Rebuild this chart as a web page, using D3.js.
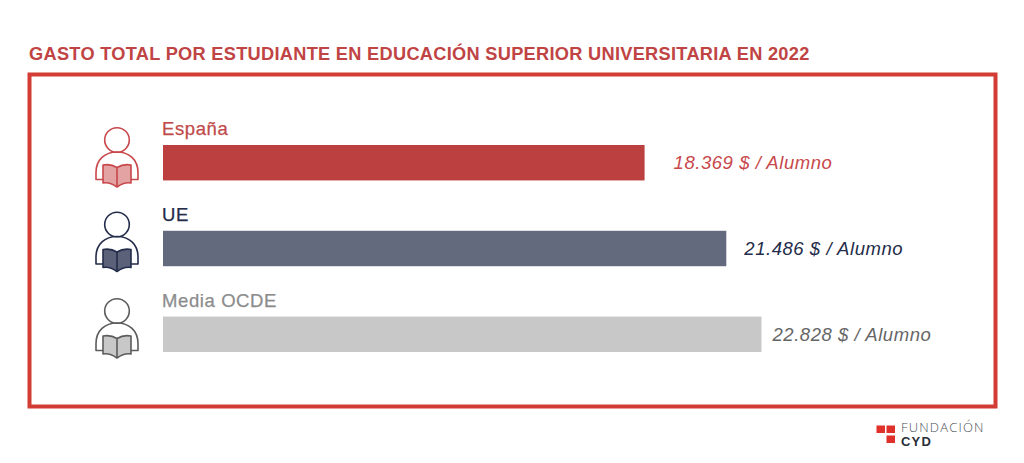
<!DOCTYPE html>
<html>
<head>
<meta charset="utf-8">
<script src="https://cdn.jsdelivr.net/npm/d3@7"></script>
<style>
  html, body { margin: 0; padding: 0; background: #fff; }
  text { font-family: "Liberation Sans", sans-serif; }
</style>
</head>
<body>
<svg id="chart"></svg>
<script>
// Data
const categories = ["España", "UE", "Media OCDE"];
const values = [18369, 21486, 22828];
const valueLabels = ["18.369 $ / Alumno", "21.486 $ / Alumno", "22.828 $ / Alumno"];
const titleText = "GASTO TOTAL POR ESTUDIANTE EN EDUCACIÓN SUPERIOR UNIVERSITARIA EN 2022";

// Colours per category
const barColors = ["#bc4040", "#636a7d", "#c8c8c8"];
const labelColors = ["#c04a4a", "#232c4a", "#8c8c8c"];
const valueColors = ["#c8474a", "#232c4a", "#666666"];
const iconStrokes = ["#c8474a", "#232c4a", "#5c5c5c"];
const iconFills = ["#e3a3a3", "#5a6178", "#c8c8c8"];

const width = 1024;
const height = 463;

const svg = d3.select("#chart")
  .attr("width", width)
  .attr("height", height)
  .style("display", "block");

// Title
svg.append("text")
  .attr("x", 29)
  .attr("y", 60)
  .attr("font-size", "18.2px")
  .attr("font-weight", "bold")
  .attr("letter-spacing", "0.3px")
  .attr("fill", "#c04444")
  .text(titleText);

// Red frame
svg.append("rect")
  .attr("x", 29.5)
  .attr("y", 74.5)
  .attr("width", 966)
  .attr("height", 332)
  .attr("fill", "none")
  .attr("stroke", "#d23c35")
  .attr("stroke-width", 4);

// Scales
const xScale = d3.scaleLinear()
  .domain([0, 23000])
  .range([163, 766]);

const yScale = d3.scaleBand()
  .domain(categories)
  .range([145, 352])
  .paddingInner(0.587)
  .paddingOuter(0);

// Bars
svg.selectAll(".bar")
  .data(categories)
  .enter()
  .append("rect")
  .attr("class", "bar")
  .attr("x", xScale(0))
  .attr("y", d => yScale(d))
  .attr("width", (d, i) => xScale(values[i]) - xScale(0))
  .attr("height", yScale.bandwidth())
  .attr("fill", (d, i) => barColors[i]);

// Category labels above the bars
svg.selectAll(".cat-label")
  .data(categories)
  .enter()
  .append("text")
  .attr("class", "cat-label")
  .attr("x", xScale(0) - 1)
  .attr("y", d => yScale(d) - 10)
  .attr("font-size", "18.5px")
  .attr("letter-spacing", "0.6px")
  .attr("stroke-width", 0.25)
  .attr("stroke", (d, i) => labelColors[i])
  .attr("fill", (d, i) => labelColors[i])
  .text(d => d);

// Value labels to the right of the bars
const valueGaps = [29, 18, 11];
svg.selectAll(".value-label")
  .data(categories)
  .enter()
  .append("text")
  .attr("class", "value-label")
  .attr("x", (d, i) => xScale(values[i]) + valueGaps[i])
  .attr("y", d => yScale(d) + yScale.bandwidth() / 2 + 6.5)
  .attr("font-size", "18.5px")
  .attr("letter-spacing", "0.55px")
  .attr("font-style", "italic")
  .attr("fill", (d, i) => valueColors[i])
  .text((d, i) => valueLabels[i]);

// Reader icon, one for each bar
function drawReader(g, stroke, fill) {
  g.attr("fill", "none")
    .attr("stroke", stroke)
    .attr("stroke-width", 1.6)
    .attr("stroke-linejoin", "round");

  // head
  g.append("circle")
    .attr("cx", 0)
    .attr("cy", -20.5)
    .attr("r", 12.3);

  // shoulders and arms
  g.append("path")
    .attr("d", "M-14,19 L-21,19 L-21,12 C-21,-1 -12,-8.5 0,-8.5 C12,-8.5 21,-1 21,12 L21,19 L14,19");

  // open book
  g.append("path")
    .attr("fill", fill)
    .attr("d", "M0,7 C-4,4.5 -9,3.5 -14,4.5 L-14,22.5 C-9,21.5 -5,23 0,26.5 C5,23 9,21.5 14,22.5 L14,4.5 C9,3.5 4,4.5 0,7 Z");
  g.append("path")
    .attr("d", "M0,7 L0,26.5");
}

const iconCenters = [160.5, 245, 331.5];
categories.forEach((d, i) => {
  const g = svg.append("g")
    .attr("class", "icon")
    .attr("transform", `translate(117, ${iconCenters[i]})`);
  drawReader(g, iconStrokes[i], iconFills[i]);
});

// Logo at bottom right
const logo = svg.append("g").attr("class", "logo");
[[876.5, 425.5], [886.5, 425.5], [886.5, 435.5]].forEach(p => {
  logo.append("rect")
    .attr("x", p[0])
    .attr("y", p[1])
    .attr("width", 8.5)
    .attr("height", 7.5)
    .attr("fill", "#e0302a");
});
logo.append("text")
  .attr("x", 901)
  .attr("y", 431.5)
  .attr("font-size", "13px")
  .attr("font-weight", "300")
  .attr("letter-spacing", "1.2px")
  .attr("style", "font-family:'Open Sans'")
  .attr("fill", "#4a4f55")
  .text("FUNDACIÓN");
logo.append("text")
  .attr("x", 901)
  .attr("y", 446)
  .attr("font-size", "13px")
  .attr("font-weight", "bold")
  .attr("letter-spacing", "1.2px")
  .attr("fill", "#2a2f38")
  .text("CYD");
</script>
</body>
</html>
